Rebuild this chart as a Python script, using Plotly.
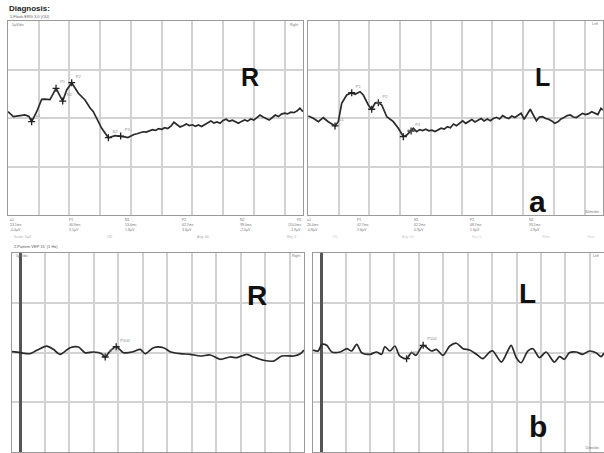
import plotly.graph_objects as go

W, H = 604, 453

# ---------------- data ----------------
# a) flash response, right eye: time (ms) / amplitude (uV)
aR_t = [0, 5.2, 11.7, 16.6, 20.5, 23.1, 28.0, 32.9, 36.0, 41.0, 46.9, 53.4, 57.3, 62.2,
        68.7, 75.2, 80.0, 83.3, 91.5, 98.0, 104.5,
        111, 114, 117, 120, 123, 126, 129, 132, 135, 138, 141, 144, 147, 150, 153, 156,
        159, 162, 165, 168, 171, 174, 177, 180, 183, 186, 189, 192, 195, 198, 201, 204,
        207, 210, 213, 216, 219, 222, 225, 228, 231, 234, 237, 240, 243, 246, 249, 252,
        255, 258, 261, 264, 267, 270, 273, 276, 279, 282, 285, 288]
aR_v = [0.65, 0.15, 0.25, 0.31, 0.15, -0.38, 0.65, 1.93, 1.95, 1.90, 3.06, 1.75, 2.89, 3.64,
        2.55, 1.86, 1.05, 0.65, -1.06, -2.03, -1.82,
        -1.86, -1.95, -2.02, -1.85, -1.70, -1.62, -1.50, -1.42, -1.45, -1.30, -1.20, -1.28,
        -1.10, -1.16, -1.00, -1.08, -0.85, -0.44, -0.70, -0.92, -0.80, -0.62, -0.78, -0.70,
        -0.85, -0.72, -0.88, -0.70, -0.45, -0.30, -0.52, -0.40, -0.55, -0.25, -0.13, -0.35,
        -0.22, -0.40, -0.55, -0.35, -0.20, -0.32, -0.10, -0.22, 0.05, 0.31, 0.10, -0.05,
        -0.21, 0.05, 0.31, 0.15, 0.40, 0.50, 0.42, 0.60, 0.55, 0.72, 1.00, 0.65]

# a) flash response, left eye
aL_t = [0.3, 5.2, 10.1, 14.9, 19.8, 26.4, 29.6, 32.9, 37.8, 42.7, 45.9, 50.8, 54.0, 58.9,
        62.2, 65.4, 68.7, 72.0, 76.9, 83.3, 88.2, 93.1, 96.4, 99.6, 102.8,
        106, 109, 112, 115, 118, 121, 124, 127, 130, 133, 136, 139, 142, 145, 148, 151,
        154, 157, 160, 163, 166, 169, 172, 175, 178, 181, 184, 187, 190, 193, 196, 199,
        202, 205, 208, 211, 214, 217, 220, 223, 226, 229, 232, 235, 238, 241, 244, 247,
        250, 253, 256, 259, 262, 265, 268, 271, 274, 277, 280, 283, 286, 288]
aL_v = [0.21, -0.03, -0.38, 0.03, -0.38, -0.82, -0.38, 1.52, 2.37, 2.61, 2.44, 2.71, 2.37, 1.34,
        0.90, 1.52, 1.58, 1.34, 0.13, -0.38, -1.06, -1.93, -1.75, -1.41, -1.06,
        -1.41, -1.20, -1.30, -1.15, -1.32, -1.25, -1.40, -1.22, -1.05, -1.15, -0.90, -1.00,
        -0.62, -0.80, -0.55, -0.30, -0.55, -0.35, -0.15, -0.40, -0.25, -0.05, -0.30, -0.10,
        -0.28, -0.05, 0.07, -0.10, 0.25, 0.05, -0.05, 0.20, 0.05, 0.30, 0.48, -0.13,
        0.40, 0.90, 0.30, -0.28, 0.10, 0.13, -0.05, -0.13, -0.30, -0.55, -0.40, -0.10,
        0.05, 0.25, 0.31, 0.10, 0.05, 0.30, 0.48, 0.35, 0.45, 0.65, 0.50, 0.35, 1.00, 0.82]

# b) pattern response, right eye
bR_t = [-3.3, 0, 4.1, 6.8, 10.9, 13.6, 16.3, 20.4, 23.8, 26.5, 29.9, 33.3, 34.7, 36.7, 39.2,
        42.2, 46.2, 49.0, 51.0, 54.4, 58.5, 61.2, 65.3, 69.4, 73.5, 77.6, 81.6, 85.7,
        88.4, 92.5, 95.2, 99.3, 103.4, 106.8, 111.6, 114.3, 115.8]
bR_v = [0.08, -0.02, -0.12, 0.22, 0.65, 0.32, -0.18, 0.48, 0.55, -0.02, 0.05, -0.12, -0.45, 0.15, 0.58,
        -0.02, 0.08, 0.32, -0.12, 0.48, 0.48, 0.08, -0.12, -0.18, -0.35, -0.25, -0.68, -0.45,
        -0.52, -0.18, -0.45, -0.78, -0.86, -0.35, -0.35, -0.12, 0.25]

# b) pattern response, left eye
bL_t = [-3.3, -1.2, 0.3, 2.3, 4.4, 7.8, 10.5, 12.5, 14.6, 16.6, 20.0, 22.7, 24.8, 26.1, 28.2,
        30.2, 32.2, 35.0, 37.0, 38.8, 41.8, 45.2, 47.2, 49.9, 52.7, 55.4, 58.1, 60.8, 63.6,
        66.2, 69.0, 70.3, 73.8, 76.4, 77.8, 79.9, 81.9, 84.6, 86.7, 89.4, 92.1, 95.5, 97.6,
        99.6, 101.6, 104.4, 107.1, 109.8, 112.5, 114.6, 115.8]
bL_v = [0.25, 0.15, 0.82, 0.72, 0.05, 0.05, 0.38, 0.15, 0.82, -0.02, -0.18, 0.05, -0.18, 0.58, 0.15,
        0.65, -0.35, -0.62, -0.02, -0.28, 0.72, 0.15, 0.32, -0.28, 0.65, 0.93, 0.38, 0.25, -0.18,
        -0.62, 0.05, 0.15, -0.96, 0.15, 0.72, -0.52, -1.03, 0.15, 0.38, -0.52, 0.05, -0.96, -0.42,
        -0.68, -0.02, 0.05, -0.18, 0.15, -0.02, -0.42, -0.05]

# peak markers
aR_mk_t = [23.1, 46.9, 53.4, 62.2, 98.0, 110.0]
aR_mk_v = [-0.38, 3.06, 1.75, 3.64, -2.03, -1.86]
aL_mk_t = [26.4, 42.7, 62.2, 68.7, 93.1, 100.6]
aL_mk_v = [-0.82, 2.61, 0.90, 1.58, -1.93, -1.34]
bR_mk_t = [34.7, 39.2]
bR_mk_v = [-0.45, 0.58]
bL_mk_t = [35.0, 41.8]
bL_mk_v = [-0.62, 0.72]
a_mk_names = ["a1", "P1", "N1", "P2", "N2", "P3"]
b_mk_names = ["N75", "P100"]

# ---------------- figure ----------------
fig = go.Figure()

def px_x(p):
    return p / W

def px_y(p):
    return 1 - p / H

panels = [
    # (axis suffix, x domain px, y domain px (top,bottom), x range, dtick x, zeroline, shape)
    ("", (8, 303), (21, 215), [0, 288], 30, False, "linear"),
    ("2", (308, 603), (21, 215), [0, 288], 30, False, "linear"),
    ("3", (12, 304), (253, 452), [-3.3, 115.8], 10, True, "spline"),
    ("4", (313, 604), (253, 452), [-3.3, 115.8], 10, True, "spline"),
]

series = [
    (aR_t, aR_v, aR_mk_t, aR_mk_v, a_mk_names),
    (aL_t, aL_v, aL_mk_t, aL_mk_v, a_mk_names),
    (bR_t, bR_v, bR_mk_t, bR_mk_v, b_mk_names),
    (bL_t, bL_v, bL_mk_t, bL_mk_v, b_mk_names),
]

layout_axes = {}
for (suf, xd, yd, xr, dx, zl, shp), (t, v, mt, mv, names) in zip(panels, series):
    xa = "x" + suf
    ya = "y" + suf
    layout_axes["xaxis" + suf] = dict(
        domain=[px_x(xd[0]), px_x(xd[1])], range=xr, anchor=ya,
        showgrid=True, gridcolor="#d2d2d2", gridwidth=1.6, dtick=dx, tick0=0,
        showline=True, mirror=True, linecolor="#9a9a9a", linewidth=1.4,
        showticklabels=False, ticks="",
        zeroline=zl, zerolinecolor="#555555", zerolinewidth=2.6,
    )
    layout_axes["yaxis" + suf] = dict(
        domain=[px_y(yd[1]), px_y(yd[0])], range=[-10, 10], anchor=xa,
        showgrid=True, gridcolor="#d2d2d2", gridwidth=1.6, dtick=5, tick0=0,
        showline=True, mirror=True, linecolor="#9a9a9a", linewidth=1.4,
        showticklabels=False, ticks="", zeroline=False,
    )
    fig.add_trace(go.Scatter(x=t, y=v, xaxis=xa, yaxis=ya, mode="lines",
                             line=dict(color="#2a2a2a", width=1.7, shape=shp,
                                       smoothing=0.8 if shp == "spline" else None),
                             hoverinfo="skip", showlegend=False))
    fig.add_trace(go.Scatter(x=mt, y=mv, xaxis=xa, yaxis=ya, mode="markers+text",
                             marker=dict(symbol="cross-thin", size=5,
                                         line=dict(color="#222222", width=1.3)),
                             text=names, textposition="top right",
                             textfont=dict(size=4, color="#888888", family="Arial"),
                             hoverinfo="skip", showlegend=False))

fig.update_layout(**layout_axes)

# ---------------- texts ----------------
ann = []

def txt(x, y, s, size=5, color="#777777", bold=False, xanchor="left", yanchor="middle"):
    if bold:
        s = "<b>" + s + "</b>"
    ann.append(dict(x=px_x(x), y=px_y(y), xref="paper", yref="paper", text=s,
                    showarrow=False, xanchor=xanchor, yanchor=yanchor,
                    font=dict(size=size, color=color, family="Arial")))

txt(7, 9, "Diagnosis:", size=8, color="#222222", bold=True)
txt(8, 17, "1.Flash ERG 3.0 (OU)", size=4, color="#555555")
txt(10, 25, "5µV/div", size=3.5, color="#777777")
txt(300, 25, "Right", size=3.5, color="#777777", xanchor="right")
txt(600, 24, "Left", size=3.5, color="#777777", xanchor="right")
txt(601, 212, "30ms/div", size=3.5, color="#777777", xanchor="right")

# tables under the top panels
colsR = [8, 67, 123, 180, 238, 303]
for i, (x, n, t, v) in enumerate(zip(colsR, a_mk_names, aR_mk_t, aR_mk_v)):
    anc = "right" if i == len(colsR) - 1 else "left"
    txt(x, 220, n, size=3.5, xanchor=anc)
    txt(x, 225, f"{t:.1f}ms", size=3.5, xanchor=anc)
    txt(x, 230, f"{v:.1f}µV", size=3.5, xanchor=anc)
colsL = [305, 355, 412, 468, 527]
for x, n, t, v in zip(colsL, a_mk_names, aL_mk_t, aL_mk_v):
    txt(x, 220, n, size=3.5)
    txt(x, 225, f"{t:.1f}ms", size=3.5)
    txt(x, 230, f"{v:.1f}µV", size=3.5)
for x, s in zip([12, 105, 195, 285], ["Scale: 5µV", "OD", "Avg: 64", "Rej: 0"]):
    txt(x, 237, s, size=3.5, color="#aaaaaa")
for x, s in zip([330, 400, 470, 540, 585], ["OS", "Avg: 64", "Rej: 0", "Filter", "Gain"]):
    txt(x, 237, s, size=3.5, color="#cccccc")
txt(12, 246, "2.Pattern VEP 15' (1 Hz)", size=4, color="#555555")
txt(14, 256, "5µV/div", size=3.5)
txt(302, 256, "Right", size=3.5, xanchor="right")
txt(601, 256, "Left", size=3.5, xanchor="right")
txt(601, 448, "10ms/div", size=3.5, xanchor="right")

# big panel letters
big = dict(color="#111111", family="Arial")
for x, y, s, sz in [(250, 77, "R", 25), (542, 77, "L", 25), (537, 201, "a", 30),
                    (257, 295, "R", 28), (527, 293, "L", 28), (538, 426, "b", 30)]:
    ann.append(dict(x=px_x(x), y=px_y(y), xref="paper", yref="paper",
                    text="<b>" + s + "</b>", showarrow=False,
                    xanchor="center", yanchor="middle",
                    font=dict(size=sz, **big)))

fig.update_layout(annotations=ann, width=W, height=H,
                  margin=dict(l=0, r=0, t=0, b=0),
                  paper_bgcolor="white", plot_bgcolor="white",
                  showlegend=False)

fig.write_html("out.html",
               config={"displayModeBar": False},
               post_script="document.body.style.margin='0';"
                           "document.body.style.overflow='hidden';")
